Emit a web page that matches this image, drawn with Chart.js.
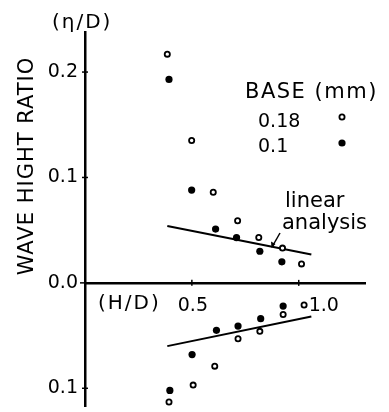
<!DOCTYPE html>
<html>
<head>
<meta charset="utf-8">
<script src="https://cdn.jsdelivr.net/npm/chart.js@4"></script>
<style>
  html, body { margin: 0; padding: 0; background: #fff; }
  #wrap { width: 389px; height: 412px; }
</style>
</head>
<body>
<div id="wrap"><canvas id="chart"></canvas></div>
<script>
// Valores (H/D frente a η/D)
// Parte superior: cresta
const xOpenUpper = [0.385, 0.499, 0.600, 0.714, 0.813, 0.924, 1.013];
const yOpenUpper = [0.217, 0.135, 0.086, 0.059, 0.043, 0.033, 0.018];
const xFilledUpper = [0.393, 0.499, 0.611, 0.709, 0.818, 0.921];
const yFilledUpper = [0.193, 0.088, 0.051, 0.043, 0.030, 0.020];

// Parte inferior: valle (se dibuja bajo el eje)
const xOpenLower = [0.393, 0.506, 0.607, 0.716, 0.818, 0.927, 1.025];
const yOpenLower = [-0.113, -0.097, -0.079, -0.053, -0.046, -0.030, -0.021];
const xFilledLower = [0.397, 0.501, 0.615, 0.716, 0.822, 0.927];
const yFilledLower = [-0.102, -0.068, -0.045, -0.041, -0.034, -0.022];

// Análisis lineal
const xLinear = [0.385, 1.059];
const yLinearUpper = [0.054, 0.027];
const yLinearLower = [-0.060, -0.032];

// Etiquetas del eje x
const xTickValues = [0.5, 1.0];
const xTickLabels = ['0.5', '1.0'];

const legendLabels = ['0.18', '0.1'];

const FONT = '"DejaVu Sans", sans-serif';

function toPoints(xs, ys) {
    return xs.map((x, i) => ({ x: x, y: ys[i] }));
}

function openStyle() {
    return {
        pointRadius: 2.6,
        pointBorderWidth: 1.8,
        pointBackgroundColor: '#fff',
        pointBorderColor: '#000',
        showLine: false
    };
}

function filledStyle() {
    return {
        pointRadius: 3.6,
        pointBorderWidth: 0,
        pointBackgroundColor: '#000',
        pointBorderColor: '#000',
        showLine: false
    };
}

function lineStyle() {
    return {
        showLine: true,
        borderColor: '#000',
        borderWidth: 2,
        pointRadius: 0,
        fill: false
    };
}

// Textos, marcas y leyenda dibujados encima del gráfico
const extras = {
    id: 'extras',
    afterDraw(chart) {
        const ctx = chart.ctx;
        const x = chart.scales.x;
        const y = chart.scales.y;
        const ax = x.getPixelForValue(0);
        const ay = y.getPixelForValue(0);

        ctx.save();
        ctx.strokeStyle = '#000';
        ctx.fillStyle = '#000';
        ctx.lineWidth = 1.5;

        // marcas del eje y (cruzan el eje)
        y.ticks.forEach(t => {
            const py = y.getPixelForValue(t.value);
            ctx.beginPath();
            if (Math.abs(t.value) < 1e-9) {
                ctx.moveTo(ax - 5, py);
                ctx.lineTo(ax, py);
            } else {
                ctx.moveTo(ax - 3, py);
                ctx.lineTo(ax + 3, py);
            }
            ctx.stroke();
        });

        // marcas del eje x
        xTickValues.forEach(v => {
            const px = x.getPixelForValue(v);
            ctx.beginPath();
            ctx.moveTo(px, ay - 3);
            ctx.lineTo(px, ay + 3);
            ctx.stroke();
        });

        // etiquetas del eje x
        const xOffsets = [1, 25];
        ctx.font = '19px ' + FONT;
        ctx.textAlign = 'center';
        ctx.textBaseline = 'alphabetic';
        xTickValues.forEach((v, i) => {
            ctx.fillText(xTickLabels[i], x.getPixelForValue(v) + xOffsets[i], ay + 28);
        });

        ctx.font = '20px ' + FONT;
        ctx.letterSpacing = '2px';
        ctx.textAlign = 'left';
        ctx.fillText('(H/D)', 98, ay + 26);
        ctx.fillText('(η/D)', 52, 28);

        // título del eje y
        ctx.save();
        ctx.translate(28, 166);
        ctx.rotate(-Math.PI / 2);
        ctx.font = '21px ' + FONT;
        ctx.letterSpacing = '1px';
        ctx.textAlign = 'center';
        ctx.textBaseline = 'middle';
        ctx.fillText('WAVE HIGHT RATIO', 0, 0);
        ctx.restore();

        // leyenda
        ctx.font = '21px ' + FONT;
        ctx.letterSpacing = '1.5px';
        ctx.textAlign = 'left';
        ctx.fillText('BASE (mm)', 245, 98);
        ctx.font = '19px ' + FONT;
        ctx.letterSpacing = '0px';
        ctx.fillText(legendLabels[0], 258, 127);
        ctx.fillText(legendLabels[1], 258, 152);

        ctx.beginPath();
        ctx.lineWidth = 1.8;
        ctx.fillStyle = '#fff';
        ctx.arc(342, 117, 2.6, 0, Math.PI * 2);
        ctx.fill();
        ctx.stroke();
        ctx.fillStyle = '#000';
        ctx.beginPath();
        ctx.arc(342, 143, 3.6, 0, Math.PI * 2);
        ctx.fill();

        // nota "linear analysis" con flecha
        ctx.font = '21px ' + FONT;
        ctx.fillText('linear', 285, 207);
        ctx.fillText('analysis', 282, 229);

        ctx.lineWidth = 1.5;
        ctx.beginPath();
        ctx.moveTo(280, 233);
        ctx.lineTo(272, 247);
        ctx.stroke();
        ctx.beginPath();
        ctx.moveTo(271.5, 248);
        ctx.lineTo(271, 241.5);
        ctx.lineTo(275.5, 244);
        ctx.closePath();
        ctx.fill();

        ctx.restore();
    }
};

const chart = new Chart(document.getElementById('chart'), {
    type: 'scatter',
    data: {
        datasets: [
            Object.assign({ label: '0.18', data: toPoints(xOpenUpper, yOpenUpper) }, openStyle()),
            Object.assign({ label: '0.1', data: toPoints(xFilledUpper, yFilledUpper) }, filledStyle()),
            Object.assign({ label: '0.18 inf', data: toPoints(xOpenLower, yOpenLower) }, openStyle()),
            Object.assign({ label: '0.1 inf', data: toPoints(xFilledLower, yFilledLower) }, filledStyle()),
            Object.assign({ label: 'linear sup', data: toPoints(xLinear, yLinearUpper) }, lineStyle()),
            Object.assign({ label: 'linear inf', data: toPoints(xLinear, yLinearLower) }, lineStyle())
        ]
    },
    options: {
        responsive: true,
        maintainAspectRatio: false,
        animation: false,
        devicePixelRatio: 1,
        layout: { padding: { top: 32, right: 24, bottom: 0, left: 0 } },
        plugins: {
            legend: { display: false },
            tooltip: { enabled: false }
        },
        scales: {
            x: {
                type: 'linear',
                min: 0,
                max: 1.31,
                position: { y: 0 },
                grid: { display: false, drawTicks: false },
                border: { display: true, color: '#000', width: 2.5 },
                ticks: { display: false }
            },
            y: {
                type: 'linear',
                min: -0.117,
                max: 0.238,
                grid: { display: false, drawTicks: false },
                border: { display: true, color: '#000', width: 2.5 },
                ticks: {
                    stepSize: 0.1,
                    includeBounds: false,
                    padding: 7,
                    color: '#000',
                    font: { family: FONT, size: 19 },
                    callback: function(value) {
                        return Math.abs(value).toFixed(1);
                    }
                },
                afterFit: function(scale) {
                    scale.width = 85;
                    scale.paddingTop = 0;
                    scale.paddingBottom = 0;
                }
            }
        }
    },
    plugins: [extras]
});
</script>
</body>
</html>
